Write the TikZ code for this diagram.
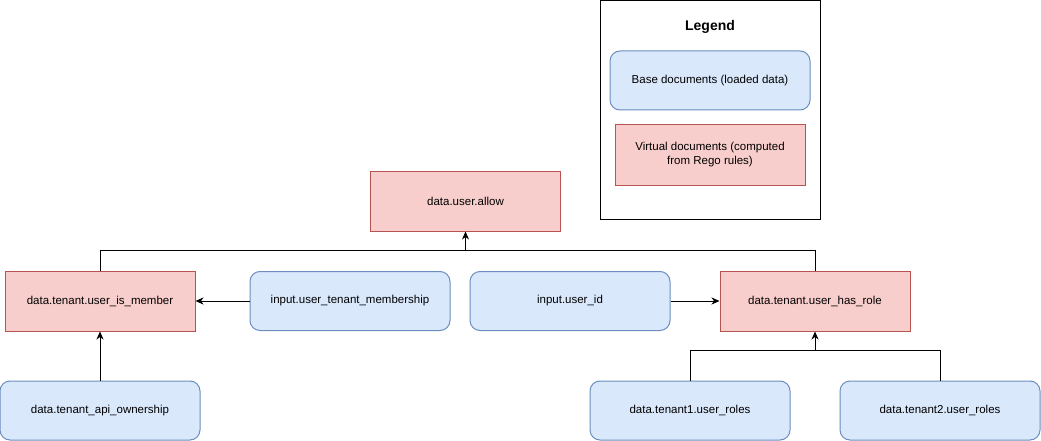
\documentclass[tikz,border=0pt]{standalone}
\usepackage{fontspec}
\setmainfont{Liberation Sans}
\usetikzlibrary{arrows.meta}

\definecolor{basefill}{HTML}{DAE8FC}
\definecolor{baseline}{HTML}{6C8EBF}
\definecolor{virtfill}{HTML}{F8CECC}
\definecolor{virtline}{HTML}{B85450}

\begin{document}
\begin{tikzpicture}[x=1pt,y=-1pt,every path/.style={>={Stealth[length=8pt,width=7pt,inset=2.5pt]}},
  every node/.style={font=\fontsize{11.5}{14}\selectfont},
  base/.style={draw=baseline,fill=basefill,rounded corners=10pt,line width=1pt,
    minimum width=200pt,minimum height=59pt},
  virtual/.style={draw=virtline,fill=virtfill,line width=1pt,
    minimum width=190pt,minimum height=60pt}]
\useasboundingbox (0,0) rectangle (1041,441);
% legend
\node[draw,line width=1pt,minimum width=220pt,minimum height=218pt] (legend) at (710.5,110) {};
\node (legtitle) at (710,27) {\fontsize{14}{16}\selectfont\bfseries Legend};
\node[base]    (legbase) at (710,80.5) {Base documents (loaded data)};
\node[virtual,align=center] (legvirt) at (710,155) {Virtual documents (computed\\from Rego rules)};
% nodes
\node[virtual] (allow)      at (465.5,201) {data.user.allow};
\node[virtual] (member)     at (100,301)   {data.tenant.user\_is\_member};
\node[base]    (membership) at (350,301)   {input.user\_tenant\_membership};
\node[base]    (userid)     at (570,301)   {input.user\_id};
\node[virtual] (hasrole)    at (815,301)   {data.tenant.user\_has\_role};
\node[base]    (ownership)  at (100,410.5) {data.tenant\_api\_ownership};
\node[base]    (roles1)     at (690,410.5) {data.tenant1.user\_roles};
\node[base]    (roles2)     at (940,410.5) {data.tenant2.user\_roles};
\coordinate (jtop) at (465.5,251);
\coordinate (jbot) at (815,351);
% edges
\draw[line width=1pt]     (member.north) -- ++(0,-20) -| (hasrole.north);
\draw[->,line width=1pt]  (jtop) -- (allow.south);
\draw[->,line width=1pt]  (membership) -- (member);
\draw[->,line width=1pt]  (userid) -- (hasrole);
\draw[->,line width=1pt]  (ownership) -- (member);
\draw[line width=1pt]     (roles1.north) -- ++(0,-30) -| (roles2.north);
\draw[->,line width=1pt]  (jbot) -- (hasrole.south);
\end{tikzpicture}
\end{document}
